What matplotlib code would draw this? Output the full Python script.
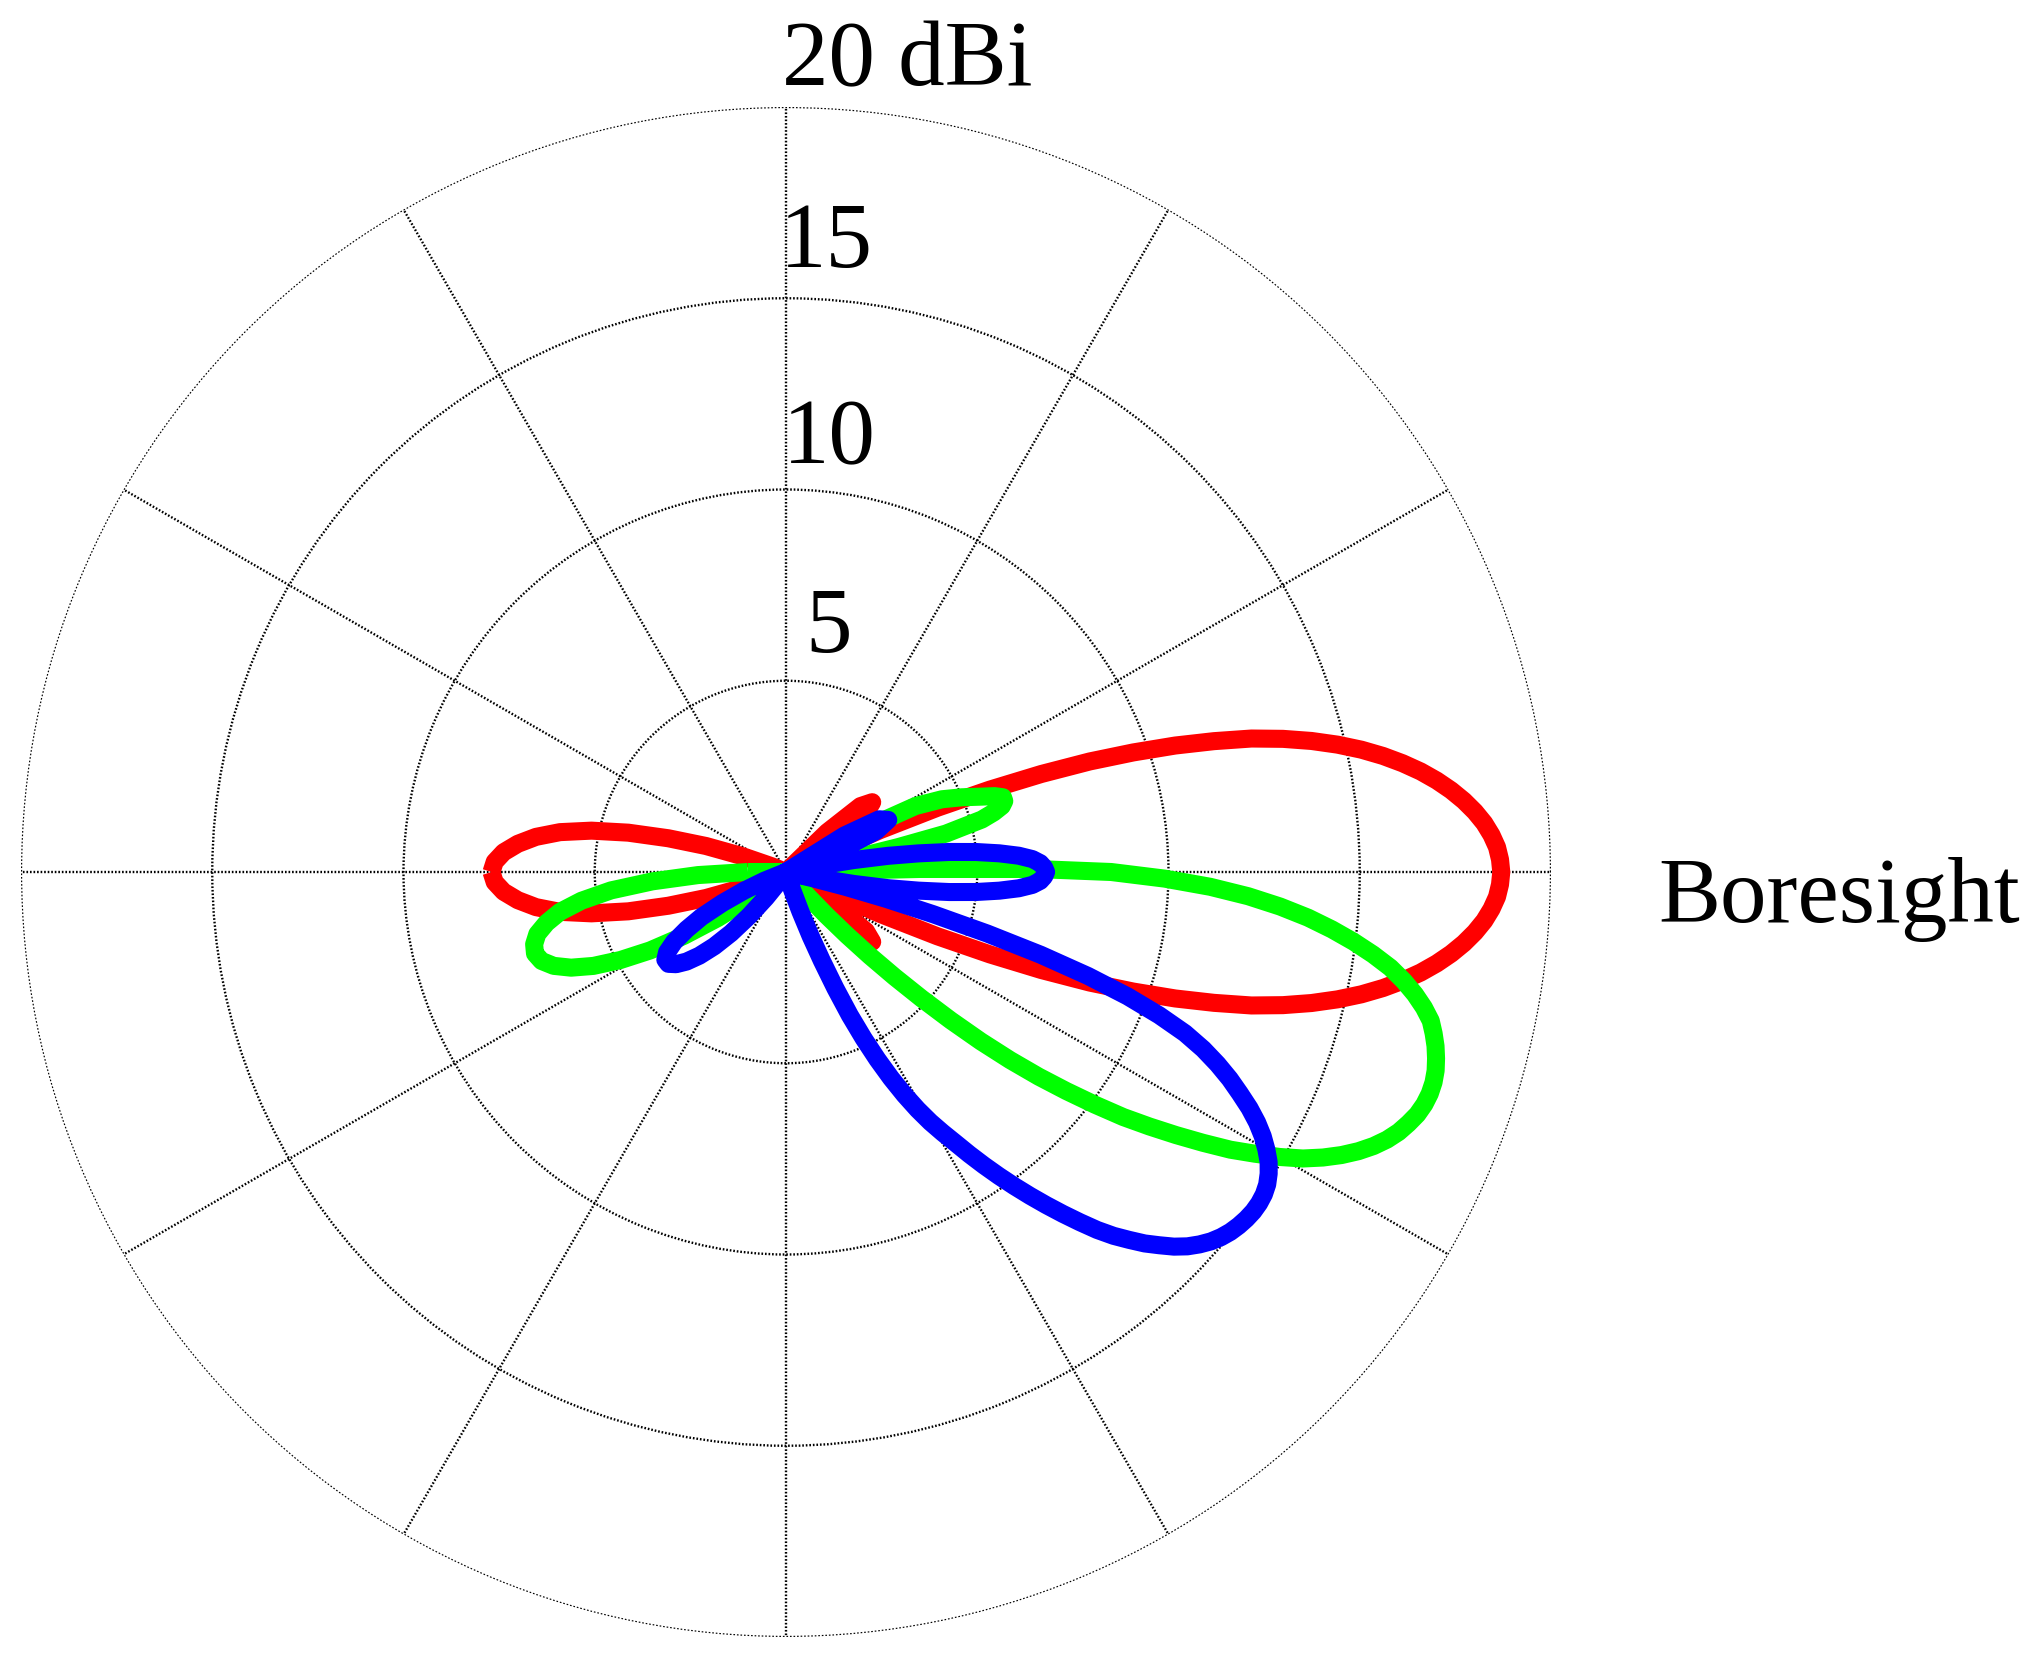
import numpy as np
import matplotlib
matplotlib.use("Agg")
import matplotlib.pyplot as plt

# ---------------- data (angle in degrees, gain in dBi; <=0 dBi shown at centre) ----
red_deg = [-180, -178, -176, -174, -172, -170, -168, -166, -164, -162, -160, -158, -157,
           -47, -44, -41.5, -39, -36.5, -34, -31,
           -26, -25, -24, -23, -22, -21, -20, -19, -18, -17, -16, -15, -14, -13, -12, -11,
           -10, -9, -8, -7, -6, -5, -4, -3, -2, -1, 0,
           1, 2, 3, 4, 5, 6, 7, 8, 9, 10, 11, 12, 13, 14, 15, 16, 17, 18, 19, 20,
           21, 22, 23, 24, 25, 26,
           31, 34, 36.5, 39, 41.5, 44, 47,
           157, 158, 160, 162, 164, 166, 168, 170, 172, 174, 176, 178, 180]
red_db = [7.7, 7.62, 7.4, 7.05, 6.6, 6.0, 5.2, 4.25, 3.2, 2.2, 1.2, 0.4, 0,
          0, 1.5, 2.6, 2.9, 2.6, 1.5, 0,
          0, 1.0, 2.7, 4.3, 5.75, 7.15, 8.45, 9.6, 10.7, 11.7, 12.66, 13.45, 14.16, 14.8, 15.38, 15.9,
          16.37, 16.8, 17.18, 17.52, 17.82, 18.08, 18.3, 18.47, 18.6, 18.67, 18.7,
          18.67, 18.6, 18.47, 18.3, 18.08, 17.82, 17.52, 17.18, 16.8, 16.37, 15.9, 15.38, 14.8, 14.16, 13.45, 12.66, 11.7, 10.7, 9.6, 8.45,
          7.15, 5.75, 4.3, 2.7, 1.0, 0,
          0, 1.5, 2.6, 2.9, 2.6, 1.5, 0,
          0, 0.4, 1.2, 2.2, 3.2, 4.25, 5.2, 6.0, 6.6, 7.05, 7.4, 7.62, 7.7]

green_deg = [-180, -178, -176, -174, -172, -170, -168, -166, -164, -162, -160, -158, -156, -154,
             -152, -150, -148, -146, -144, -142, -141,
             -50, -49, -48, -47, -46, -45, -44, -43, -42, -41, -40, -39, -38, -37, -36, -35, -34,
             -33, -32, -31, -30, -29, -28, -27, -26, -25, -24, -23, -22, -21, -20, -19, -18, -17,
             -16, -15, -14, -13, -12, -11, -10, -9, -8, -7, -6, -5, -4, -3, -2, -1,
             0, 0.7, 1.3, 2,
             9, 11, 12.5, 13.5, 15, 16, 17, 18, 19, 20, 21, 23, 25, 27, 28.5, 30,
             177, 180]
green_db = [1.0, 2.3, 3.5, 4.6, 5.4, 6.0, 6.4, 6.7, 6.85, 6.9, 6.8, 6.55, 6.15, 5.6,
            4.9, 4.1, 3.15, 2.15, 1.1, 0.3, 0,
            0, 0.3, 0.85, 1.55, 2.3, 3.1, 3.95, 4.85, 5.8, 6.75, 7.65, 8.5, 9.3, 10.1, 10.9, 11.6, 12.3,
            13.0, 13.7, 14.3, 14.9, 15.45, 15.9, 16.3, 16.65, 16.95, 17.2, 17.4, 17.55, 17.68, 17.76, 17.8, 17.8, 17.76,
            17.68, 17.58, 17.45, 17.3, 17.05, 16.75, 16.4, 16.0, 15.5, 14.95, 14.35, 13.7, 12.95, 12.1, 11.1, 9.9,
            8.5, 6.5, 3.5, 0,
            0, 1.5, 3.0, 4.3, 5.3, 5.65, 5.9, 6.0, 6.0, 5.8, 5.5, 5.0, 4.5, 3.8, 2.5, 0,
            0, 1.0]

blue_deg = [-180, -160, -158, -156, -154, -152, -150, -148, -146, -144, -142, -140, -138, -136,
            -134, -132, -130, -128, -126, -125,
            -72, -71, -70, -69, -68, -67, -66, -65, -64, -63, -62, -61, -60, -59, -58, -57, -56,
            -55, -54, -53, -52, -51, -50, -49, -48, -47, -46, -45, -44, -43, -42, -41, -40, -39,
            -38, -37, -36, -35, -34, -33, -32, -31, -30, -29, -28, -27, -26, -25, -24, -23, -22,
            -21, -20, -19, -18, -17, -16, -15, -14, -13, -12,
            -11, -10, -9, -8, -7, -6, -5, -4, -3, -2, -1, 0,
            1, 2, 3, 4, 5, 6, 7, 8, 9, 10, 11, 12,
            19, 22, 24.5, 27, 29.5, 32, 34,
            180]
blue_db = [0, 0, 0.6, 1.2, 1.85, 2.5, 3.0, 3.45, 3.75, 3.9, 3.9, 3.75, 3.5, 3.15,
           2.7, 2.15, 1.5, 0.85, 0.3, 0,
           0, 0.5, 1.1, 1.8, 2.5, 3.3, 4.1, 4.8, 5.45, 6.05, 6.6, 7.1, 7.55, 7.95, 8.35, 8.8, 9.25,
           9.7, 10.15, 10.6, 11.05, 11.5, 11.95, 12.4, 12.8, 13.15, 13.5, 13.8, 14.1, 14.35, 14.55, 14.72, 14.85, 14.95,
           15.02, 15.07, 15.1, 15.1, 15.07, 15.0, 14.88, 14.72, 14.5, 14.25, 13.95, 13.6, 13.2, 12.8, 12.35, 11.85, 11.25,
           10.45, 9.5, 8.35, 7.0, 5.5, 4.0, 2.7, 1.6, 0.7, 0,
           0.9, 1.8, 2.7, 3.5, 4.3, 5.0, 5.6, 6.1, 6.45, 6.65, 6.75, 6.8,
           6.75, 6.65, 6.45, 6.1, 5.6, 5.0, 4.3, 3.5, 2.7, 1.8, 0.9, 0,
           0, 1.5, 2.6, 3.0, 2.8, 1.8, 0,
           0]

ring_values = [5, 10, 15, 20]
ring_labels = ["5", "10", "15", "20 dBi"]
spoke_deg = list(range(0, 360, 30))
boresight_label = "Boresight"

# ---------------- figure ----------------
W, H, DPI = 2036, 1666, 100
fig = plt.figure(figsize=(W / DPI, H / DPI), dpi=DPI, facecolor="white")

cx, cy, R = 786, 872, 765  # centre and outer radius in pixels (from top-left)
ax = fig.add_axes([(cx - R) / W, (H - cy - R) / H, 2 * R / W, 2 * R / H],
                  projection="polar")
ax.set_theta_zero_location("E")
ax.set_theta_direction(1)
ax.set_ylim(0, 20)
ax.set_xticks(np.deg2rad(spoke_deg))
ax.set_yticks(ring_values)
ax.set_xticklabels([])
ax.set_yticklabels([])
ax.tick_params(length=0)
ax.spines["polar"].set_visible(False)
ax.grid(True, color="#000000", linestyle=(0, (0.7, 0.8)), linewidth=1.7)
ax.set_facecolor("white")

for deg, db, col in [(red_deg, red_db, "#ff0000"),
                     (green_deg, green_db, "#00ff00"),
                     (blue_deg, blue_db, "#0000ff")]:
    ax.plot(np.deg2rad(deg), np.clip(db, 0, None), color=col, linewidth=13,
            solid_joinstyle="round", solid_capstyle="butt", zorder=3)

font = dict(family="Liberation Serif", size=67, color="black")
x_offs = [19, -3, -6, -4]
y_offs = [29, 26, 31, 22]
for r, lab, dx, dy in zip(ring_values, ring_labels, x_offs, y_offs):
    ax.annotate(lab, xy=(np.pi / 2, r), xytext=(dx, dy), textcoords="offset pixels",
                ha="left", va="baseline", annotation_clip=False, **font)

ax.annotate(boresight_label, xy=(0, 20), xytext=(107, -50), textcoords="offset pixels",
            ha="left", va="baseline", annotation_clip=False, **font)

fig.savefig("out.png", dpi=DPI, facecolor="white")
